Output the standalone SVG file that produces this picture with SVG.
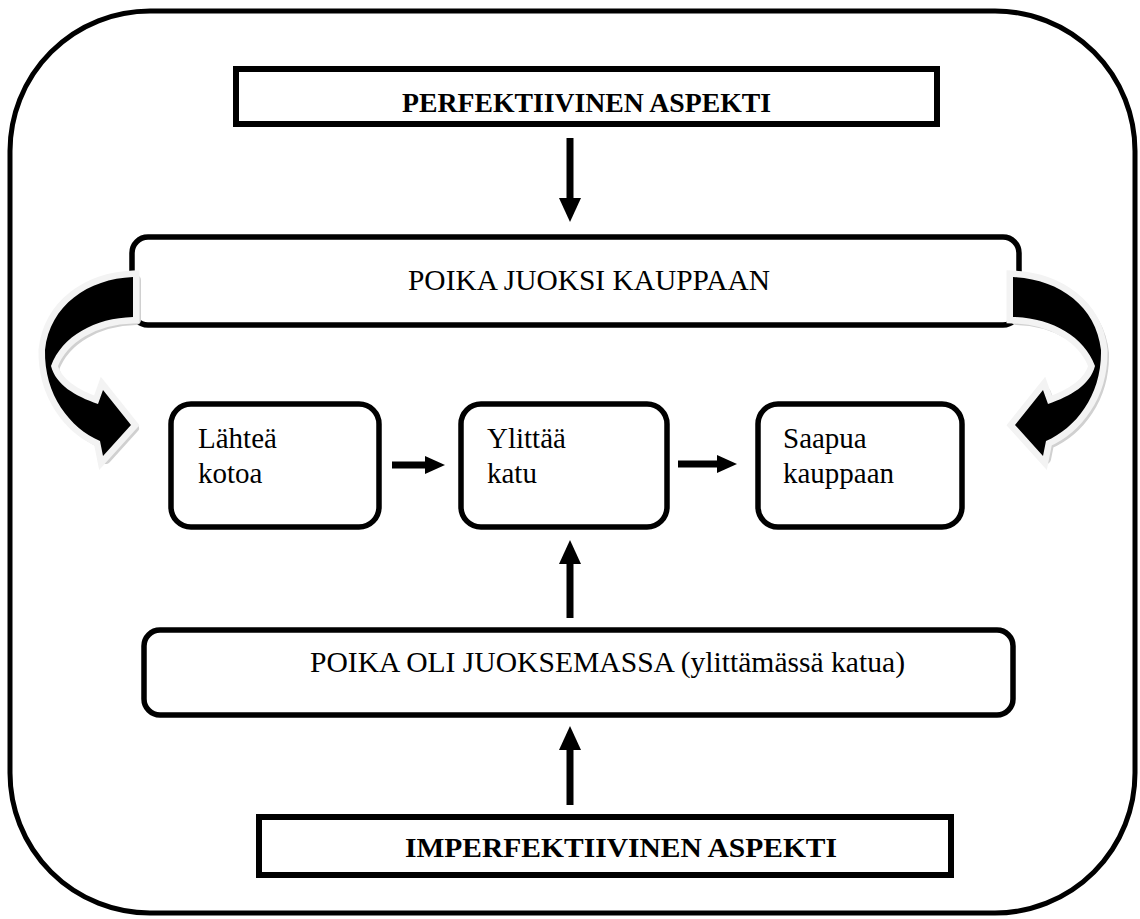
<svg xmlns="http://www.w3.org/2000/svg" width="1140" height="919" viewBox="0 0 1140 919">
<style>
.frame{fill:none;stroke:#000;stroke-width:5}
.sq{fill:#fff;stroke:#000;stroke-width:6}
.rb{fill:#fff;stroke:#000;stroke-width:5.5}
.bt{font-family:"Liberation Serif","Times New Roman",serif;font-weight:bold;font-size:28px;fill:#000}
.rt{font-family:"Liberation Serif","Times New Roman",serif;font-size:29px;fill:#000}
.conn{stroke:#000;stroke-width:7;fill:none}
.cshadow{fill:#d6d6d6;stroke:#d0d0d0;stroke-width:10;stroke-linejoin:round}
.cmain{fill:#000;stroke:#f3f3f3;stroke-width:13;stroke-linejoin:miter;paint-order:stroke}
</style>
<defs>
<marker id="ahL" markerUnits="userSpaceOnUse" markerWidth="24" markerHeight="22" viewBox="0 0 24 22" refX="1" refY="11" orient="auto"><path d="M0,0 L24,11 L0,22 Z" fill="#000"/></marker>
<marker id="ahS" markerUnits="userSpaceOnUse" markerWidth="20" markerHeight="18" viewBox="0 0 20 18" refX="1" refY="9" orient="auto"><path d="M0,0 L20,9 L0,18 Z" fill="#000"/></marker>
<path id="curv" d="M133,277 C88,279 50,305 45,350 C44,395 70,428 100,441 L103,456 L131,425 L103,390 L98,404 C75,396 56,385 51,366 C62,336 95,318 133,317 Z"/>
</defs>

<rect class="frame" x="10" y="11" width="1125" height="902" rx="140" ry="140"/>

<g id="perfektiivinen">
<rect class="sq" x="236" y="69" width="701" height="55"/>
<text class="bt" x="586.5" y="112" text-anchor="middle" textLength="369" lengthAdjust="spacingAndGlyphs">PERFEKTIIVINEN ASPEKTI</text>
</g>

<g id="juoksi">
<rect class="rb" x="132" y="237" width="887" height="88" rx="16" ry="16"/>
<text class="rt" x="589" y="290" text-anchor="middle" textLength="362" lengthAdjust="spacingAndGlyphs">POIKA JUOKSI KAUPPAAN</text>
</g>

<g id="lahtea">
<rect class="rb" x="171" y="404" width="208" height="123" rx="20" ry="20"/>
<text class="rt" x="198" y="448">Lähteä</text>
<text class="rt" x="198" y="483">kotoa</text>
</g>

<g id="ylittaa">
<rect class="rb" x="461" y="404" width="206" height="123" rx="20" ry="20"/>
<text class="rt" x="487" y="448">Ylittää</text>
<text class="rt" x="487" y="483">katu</text>
</g>

<g id="saapua">
<rect class="rb" x="758" y="404" width="204" height="123" rx="20" ry="20"/>
<text class="rt" x="783" y="448">Saapua</text>
<text class="rt" x="783" y="483">kauppaan</text>
</g>

<g id="juoksemassa">
<rect class="rb" x="144" y="630" width="869" height="85" rx="16" ry="16"/>
<text class="rt" x="607.5" y="672" text-anchor="middle" textLength="595" lengthAdjust="spacingAndGlyphs">POIKA OLI JUOKSEMASSA (ylittämässä katua)</text>
</g>

<g id="imperfektiivinen">
<rect class="sq" x="259" y="817" width="692" height="58"/>
<text class="bt" x="621" y="857" text-anchor="middle" textLength="432" lengthAdjust="spacingAndGlyphs">IMPERFEKTIIVINEN ASPEKTI</text>
</g>

<g id="connectors">
<line class="conn" x1="570" y1="138" x2="570" y2="199" marker-end="url(#ahL)"/>
<line class="conn" x1="392" y1="465" x2="426" y2="465" marker-end="url(#ahS)"/>
<line class="conn" x1="678" y1="464" x2="718" y2="464" marker-end="url(#ahS)"/>
<line class="conn" x1="570" y1="618" x2="570" y2="563" marker-end="url(#ahL)"/>
<line class="conn" x1="570" y1="805" x2="570" y2="749" marker-end="url(#ahL)"/>
<g id="curved-left">
<use href="#curv" class="cshadow" transform="translate(3,3)"/>
<use href="#curv" class="cmain"/>
</g>
<g id="curved-right" transform="translate(1146,0) scale(-1,1)">
<use href="#curv" class="cshadow" transform="translate(-3,3)"/>
<use href="#curv" class="cmain"/>
</g>
</g>
</svg>
